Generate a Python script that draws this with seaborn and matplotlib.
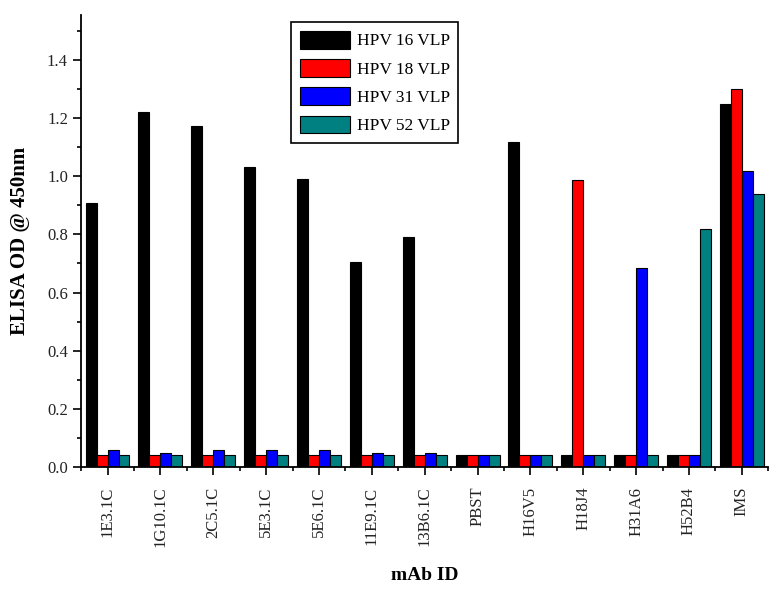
import pandas as pd
import numpy as np
import seaborn as sns
import matplotlib.pyplot as plt
from matplotlib.ticker import MultipleLocator, FixedLocator

mabs = ['1E3.1C', '1G10.1C', '2C5.1C', '5E3.1C', '5E6.1C', '11E9.1C', '13B6.1C',
        'PBST', 'H16V5', 'H18J4', 'H31A6', 'H52B4', 'IMS']
series = ['HPV 16 VLP', 'HPV 18 VLP', 'HPV 31 VLP', 'HPV 52 VLP']
hpv16 = [0.908, 1.221, 1.173, 1.032, 0.990, 0.705, 0.790, 0.04, 1.118, 0.04, 0.04, 0.04, 1.248]
hpv18 = [0.04, 0.04, 0.04, 0.04, 0.04, 0.04, 0.04, 0.04, 0.04, 0.987, 0.04, 0.04, 1.300]
hpv31 = [0.06, 0.05, 0.06, 0.06, 0.06, 0.05, 0.05, 0.04, 0.04, 0.04, 0.684, 0.04, 1.018]
hpv52 = [0.04, 0.04, 0.04, 0.04, 0.04, 0.04, 0.04, 0.04, 0.04, 0.04, 0.04, 0.818, 0.939]
colors = ['#000000', '#ff0000', '#0000ff', '#008080']

df = pd.DataFrame({'mab': mabs * 4,
                   'od': hpv16 + hpv18 + hpv31 + hpv52,
                   'series': [s for s in series for _ in mabs]})

sns.set_style('ticks')
plt.rcParams['font.family'] = ['Liberation Serif', 'DejaVu Serif']
plt.rcParams['text.color'] = 'black'
plt.rcParams['axes.labelcolor'] = 'black'

fig = plt.figure(figsize=(7.8, 5.92), dpi=100)
ax = fig.add_axes([0.104, 0.211, 0.881, 0.764])
sns.barplot(data=df, x='mab', y='od', hue='series', palette=colors,
            width=0.83, gap=0, edgecolor='black', linewidth=0.8, saturation=1, ax=ax)

ax.set_xlim(-0.5, 12.5)
ax.set_ylim(0, 1.555)
ax.yaxis.set_major_locator(MultipleLocator(0.2))
ax.yaxis.set_minor_locator(MultipleLocator(0.1))
ax.set_yticklabels([f'{t:.1f}' for t in ax.get_yticks()])
ax.xaxis.set_minor_locator(FixedLocator(np.arange(-0.5, 13, 1)))
ax.tick_params(axis='both', which='major', length=6, width=1.2, labelsize=12,
               color='black', labelcolor='#222222')
ax.tick_params(axis='both', which='minor', length=3, width=1.2, color='black')
ax.tick_params(axis='x', labelrotation=90, pad=8)
for s in ['left', 'bottom']:
    ax.spines[s].set_linewidth(1.3)
    ax.spines[s].set_color('black')
sns.despine(ax=ax)

ax.set_xlabel('mAb ID', fontsize=14, fontweight='bold', labelpad=14)
ax.set_ylabel('ELISA OD @ 450nm', fontsize=15, fontweight='bold', labelpad=12)

ax.legend(loc='upper left', bbox_to_anchor=(0.306, 0.984), borderaxespad=0,
          fontsize=12.5, frameon=True, fancybox=False, edgecolor='black', framealpha=1,
          handlelength=2.9, handleheight=1.2, labelspacing=0.55, borderpad=0.5,
          handletextpad=0.35, title=None)
ax.get_legend().get_frame().set_linewidth(1.2)

fig.savefig('out.png', dpi=100)
